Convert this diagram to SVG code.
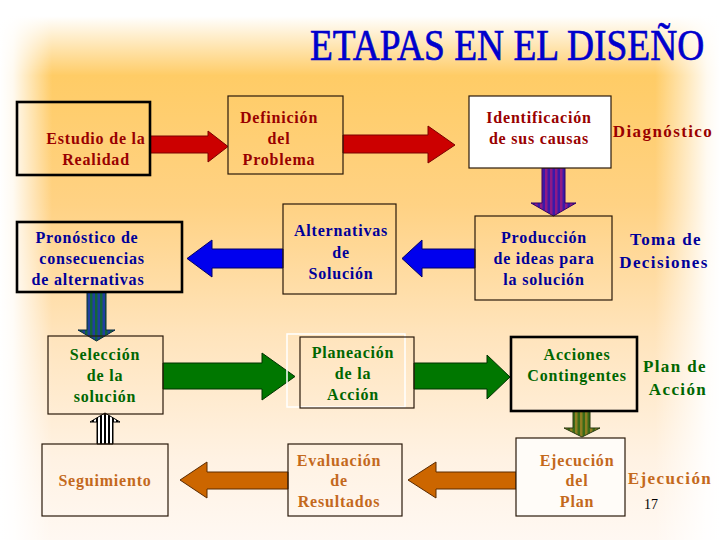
<svg xmlns="http://www.w3.org/2000/svg" width="720" height="540" viewBox="0 0 720 540">
<defs>
<linearGradient id="bgv" x1="0" y1="0" x2="0" y2="1">
<stop offset="0" stop-color="#FFFFFF"/>
<stop offset="0.03" stop-color="#FFFFFF"/>
<stop offset="0.14" stop-color="#FFCC66"/>
<stop offset="0.38" stop-color="#FFD284"/>
<stop offset="0.62" stop-color="#FFE4BC"/>
<stop offset="0.85" stop-color="#FFF2E3"/>
<stop offset="1" stop-color="#FFF8F2"/>
</linearGradient>
<linearGradient id="fadeL" x1="0" y1="0" x2="1" y2="0">
<stop offset="0" stop-color="#FFFFFF" stop-opacity="1"/>
<stop offset="0.25" stop-color="#FFFFFF" stop-opacity="0.9"/>
<stop offset="1" stop-color="#FFFFFF" stop-opacity="0"/>
</linearGradient>
<linearGradient id="fadeR" x1="0" y1="0" x2="1" y2="0">
<stop offset="0" stop-color="#FFFFFF" stop-opacity="0"/>
<stop offset="0.8" stop-color="#FFFFFF" stop-opacity="0.9"/>
<stop offset="1" stop-color="#FFFFFF" stop-opacity="1"/>
</linearGradient>
<pattern id="stPurple" patternUnits="userSpaceOnUse" width="5" height="10">
<rect width="5" height="10" fill="#3A1AA8"/>
<rect width="2.5" height="10" fill="#8E1A86"/>
</pattern>
<pattern id="stBlueGreen" patternUnits="userSpaceOnUse" width="5" height="10">
<rect width="5" height="10" fill="#1F3FA0"/>
<rect width="2.5" height="10" fill="#14663A"/>
</pattern>
<pattern id="stBW" patternUnits="userSpaceOnUse" width="4" height="10">
<rect width="4" height="10" fill="#FFFFFF"/>
<rect width="2" height="10" fill="#000000"/>
</pattern>
<pattern id="stOlive" patternUnits="userSpaceOnUse" width="5" height="10">
<rect width="5" height="10" fill="#3A6B18"/>
<rect width="2.5" height="10" fill="#8F7E22"/>
</pattern>
</defs>
<style>
.t{font-family:"Liberation Serif","Times New Roman",serif;font-weight:bold;font-size:16px;letter-spacing:0.8px;text-anchor:middle}
.lbl{font-size:17px;letter-spacing:1.4px}
.red{fill:#990000}
.blue{fill:#000099}
.green{fill:#006600}
.brown{fill:#C4691C}
.box{fill:none;stroke:#2A1A0A;stroke-width:1.2}
.thick{fill:none;stroke:#000000;stroke-width:2.6}
.ar{stroke-width:1;stroke-linejoin:miter}
</style>
<rect x="0" y="0" width="720" height="540" fill="url(#bgv)"/>
<rect x="0" y="0" width="52" height="540" fill="url(#fadeL)"/>
<rect x="655" y="0" width="65" height="540" fill="url(#fadeR)"/>

<text transform="translate(310,60) scale(0.85,1)" x="0" y="0" style="font-family:'Liberation Serif','Times New Roman',serif;font-size:44px;fill:#0000CC;stroke:#0000CC;stroke-width:0.7">ETAPAS EN EL DISEÑO</text>

<g id="connectors">
<polygon class="ar" points="150,136 208,136 208,131 228,146.5 208,162 208,153 150,153" fill="#CC0000" stroke="#7A0000"/>
<polygon class="ar" points="343,135 428,135 428,126 455,145 428,163 428,153 343,153" fill="#CC0000" stroke="#7A0000"/>
<polygon class="ar" points="542,168 565,168 565,203 576,203 553.5,216 531,203 542,203" fill="url(#stPurple)" stroke="#330066"/>
<polygon class="ar" points="283,249 212,249 212,240 187,258.5 212,277 212,268 283,268" fill="#0000EE" stroke="#000066"/>
<polygon class="ar" points="475,249 422,249 422,240 402,258.5 422,277 422,268 475,268" fill="#0000EE" stroke="#000066"/>
<polygon class="ar" points="87,292 106,292 106,330 115,330 96.5,341 78,330 87,330" fill="url(#stBlueGreen)" stroke="#0A2A40"/>
<polygon class="ar" points="163,363 262,363 262,353 295,376.5 262,400 262,389 163,389" fill="#007700" stroke="#003300"/>
<polygon class="ar" points="414,363 487,363 487,355 510,377 487,399 487,389 414,389" fill="#007700" stroke="#003300"/>
<polygon class="ar" points="573,411 590,411 590,428 600,428 582,437 564,428 573,428" fill="url(#stOlive)" stroke="#2A3A10"/>
<polygon class="ar" points="97,444 113,444 113,422 120,422 105,413 90,422 97,422" fill="url(#stBW)" stroke="#000000"/>
<polygon class="ar" points="288,472 207,472 207,462 180,480 207,498 207,489 288,489" fill="#CC6600" stroke="#5A2A00"/>
<polygon class="ar" points="516,472 436,472 436,462 408,480 436,498 436,489 516,489" fill="#CC6600" stroke="#5A2A00"/>
</g>

<g id="estudio">
<rect class="thick" x="17" y="102" width="133" height="73"/>
<text class="t red" x="96" y="144">Estudio de la</text>
<text class="t red" x="96" y="165">Realidad</text>
</g>
<g id="definicion">
<rect class="box" x="228" y="96" width="115" height="78"/>
<text class="t red" x="279" y="123">Definición</text>
<text class="t red" x="279" y="144">del</text>
<text class="t red" x="279" y="165">Problema</text>
</g>
<g id="identificacion">
<rect x="469" y="96" width="142" height="72" fill="#FFFFFF" stroke="#2A1A0A" stroke-width="1.2"/>
<text class="t red" x="539" y="123">Identificación</text>
<text class="t red" x="539" y="144">de sus causas</text>
</g>
<g id="diagnostico">
<text class="t lbl red" x="663" y="137">Diagnóstico</text>
</g>

<g id="pronostico">
<rect class="thick" x="17" y="222" width="165" height="70"/>
<text class="t blue" x="87" y="243">Pronóstico de</text>
<text class="t blue" x="92" y="264">consecuencias</text>
<text class="t blue" x="88" y="285">de alternativas</text>
</g>
<g id="alternativas">
<rect class="box" x="283" y="204" width="113" height="90"/>
<text class="t blue" x="341" y="236">Alternativas</text>
<text class="t blue" x="341" y="258">de</text>
<text class="t blue" x="341" y="279">Solución</text>
</g>
<g id="produccion">
<rect class="box" x="475" y="216" width="137" height="84"/>
<text class="t blue" x="544" y="243">Producción</text>
<text class="t blue" x="544" y="264">de ideas para</text>
<text class="t blue" x="544" y="285">la solución</text>
</g>
<g id="toma">
<text class="t lbl blue" x="666" y="245">Toma de</text>
<text class="t lbl blue" x="664" y="268">Decisiones</text>
</g>

<g id="seleccion">
<rect class="box" x="48" y="336" width="115" height="78"/>
<text class="t green" x="105" y="360">Selección</text>
<text class="t green" x="105" y="381">de la</text>
<text class="t green" x="105" y="402">solución</text>
</g>
<g id="planeacion">
<rect x="287" y="334" width="118" height="73" fill="none" stroke="#FFFFFF" stroke-width="1.5"/>
<rect class="box" x="300" y="337" width="114" height="71"/>
<text class="t green" x="353" y="358">Planeación</text>
<text class="t green" x="353" y="379">de la</text>
<text class="t green" x="353" y="400">Acción</text>
</g>
<g id="acciones">
<rect class="thick" x="511" y="337" width="126" height="74"/>
<text class="t green" x="577" y="360">Acciones</text>
<text class="t green" x="577" y="381">Contingentes</text>
</g>
<g id="plan">
<text class="t lbl green" x="675" y="372">Plan de</text>
<text class="t lbl green" x="678" y="395">Acción</text>
</g>

<g id="seguimiento">
<rect class="box" x="42" y="444" width="126" height="72"/>
<text class="t brown" x="105" y="486">Seguimiento</text>
</g>
<g id="evaluacion">
<rect class="box" x="288" y="444" width="114" height="72"/>
<text class="t brown" x="339" y="466">Evaluación</text>
<text class="t brown" x="339" y="486">de</text>
<text class="t brown" x="339" y="507">Resultados</text>
</g>
<g id="ejecucion">
<rect x="516" y="438" width="109" height="78" fill="#FFFCF8" stroke="#2A1A0A" stroke-width="1.2"/>
<text class="t brown" x="577" y="466">Ejecución</text>
<text class="t brown" x="577" y="486">del</text>
<text class="t brown" x="577" y="507">Plan</text>
</g>
<g id="ejecucion-label">
<text class="t lbl brown" x="670" y="484">Ejecución</text>
</g>
<text x="644" y="509" style="font-family:'Liberation Serif','Times New Roman',serif;font-size:14px;fill:#000000">17</text>
</svg>
